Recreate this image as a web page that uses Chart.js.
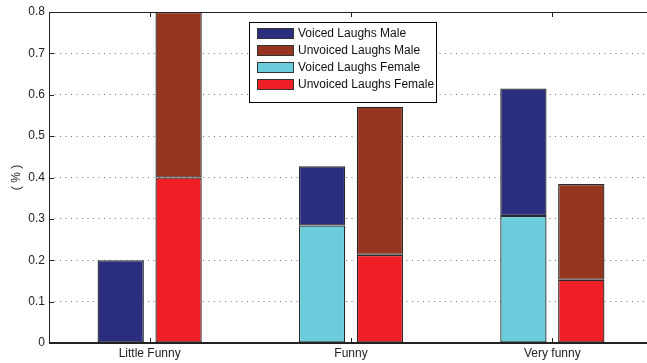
<!DOCTYPE html>
<html>
<head>
<meta charset="utf-8">
<script src="https://cdn.jsdelivr.net/npm/chart.js@4.4.1/dist/chart.umd.min.js"></script>
<style>
  html, body { margin: 0; padding: 0; background: #fff; overflow: hidden; }
  #wrap { width: 653px; height: 363px; }
</style>
</head>
<body>
<div id="wrap"><canvas id="laughChart"></canvas></div>
<script>
// categories and tick labels
var categories = ['Little Funny', 'Funny', 'Very funny'];
var yTicks = [0, 0.1, 0.2, 0.3, 0.4, 0.5, 0.6, 0.7, 0.8];

// stacked segments (female at the bottom, male on top)
var voicedFemale = [0, 0.284, 0.307];
var voicedMale = [0.2, 0.143, 0.308];
var unvoicedFemale = [0.4, 0.213, 0.153];
var unvoicedMale = [0.4, 0.358, 0.231];

var colors = {
    voicedMale: '#2B2D7F',
    unvoicedMale: '#96351F',
    voicedFemale: '#6BCDDB',
    unvoicedFemale: '#EE1F25'
};

var font = '"Liberation Sans", Arial, Helvetica, sans-serif';

function barSet(label, data, color, stack) {
    return {
        label: label,
        data: data,
        stack: stack,
        backgroundColor: color,
        borderColor: '#2a2a2a',
        borderWidth: 1.3,
        borderSkipped: false,
        categoryPercentage: 0.575,
        barPercentage: 0.8
    };
}

// legend order as in the picture
var legendItems = [
    ['Voiced Laughs Male', colors.voicedMale],
    ['Unvoiced Laughs Male', colors.unvoicedMale],
    ['Voiced Laughs Female', colors.voicedFemale],
    ['Unvoiced Laughs Female', colors.unvoicedFemale]
];

var framePlugin = {
    id: 'frame',
    afterDatasetsDraw: function (chart) {
        var ctx = chart.ctx;
        var a = chart.chartArea;
        var x = chart.scales.x, y = chart.scales.y;
        ctx.save();
        ctx.strokeStyle = '#222';
        ctx.lineWidth = 1;
        ctx.beginPath();
        ctx.moveTo(a.left, a.top + 0.5);
        ctx.lineTo(a.right, a.top + 0.5);
        ctx.moveTo(a.left + 0.5, a.top);
        ctx.lineTo(a.left + 0.5, a.bottom);
        ctx.moveTo(a.right - 0.5, a.top);
        ctx.lineTo(a.right - 0.5, a.bottom);
        ctx.stroke();
        ctx.lineWidth = 2;
        ctx.beginPath();
        ctx.moveTo(a.left, a.bottom);
        ctx.lineTo(a.right, a.bottom);
        ctx.stroke();
        // inward ticks
        ctx.lineWidth = 1;
        ctx.beginPath();
        yTicks.forEach(function (v) {
            var py = Math.round(y.getPixelForValue(v)) + 0.5;
            ctx.moveTo(a.left, py); ctx.lineTo(a.left + 5, py);
            ctx.moveTo(a.right - 5, py); ctx.lineTo(a.right, py);
        });
        categories.forEach(function (c, i) {
            var px = Math.round(x.getPixelForValue(i)) + 0.5;
            ctx.moveTo(px, a.bottom); ctx.lineTo(px, a.bottom - 5);
            ctx.moveTo(px, a.top); ctx.lineTo(px, a.top + 5);
        });
        ctx.stroke();
        ctx.restore();
    },
    afterDraw: function (chart) {
        var ctx = chart.ctx;
        ctx.save();
        var bx = 249.5, by = 22.5, bw = 187, bh = 80;
        ctx.fillStyle = '#fff';
        ctx.fillRect(bx, by, bw, bh);
        ctx.strokeStyle = '#000';
        ctx.lineWidth = 1;
        ctx.strokeRect(bx, by, bw, bh);
        ctx.font = '12px ' + font;
        ctx.textBaseline = 'middle';
        legendItems.forEach(function (item, i) {
            var cy = 33.5 + i * 17;
            ctx.fillStyle = item[1];
            ctx.fillRect(257, cy - 5.5, 37, 11);
            ctx.strokeStyle = '#333';
            ctx.strokeRect(257.5, cy - 5, 36, 10);
            ctx.fillStyle = '#111';
            ctx.fillText(item[0], 298, cy + 0.5);
        });
        ctx.restore();
    }
};

new Chart(document.getElementById('laughChart'), {
    type: 'bar',
    data: {
        labels: categories,
        datasets: [
            barSet('Voiced Laughs Female', voicedFemale, colors.voicedFemale, 'voiced'),
            barSet('Voiced Laughs Male', voicedMale, colors.voicedMale, 'voiced'),
            barSet('Unvoiced Laughs Female', unvoicedFemale, colors.unvoicedFemale, 'unvoiced'),
            barSet('Unvoiced Laughs Male', unvoicedMale, colors.unvoicedMale, 'unvoiced')
        ]
    },
    options: {
        responsive: true,
        maintainAspectRatio: false,
        animation: false,
        devicePixelRatio: 1,
        layout: { padding: { top: 12, right: 0, left: 0, bottom: 0 } },
        plugins: {
            legend: { display: false },
            tooltip: { enabled: false }
        },
        scales: {
            x: {
                stacked: true,
                grid: { display: false, drawTicks: false },
                border: { display: false },
                ticks: { color: '#222', font: { family: font, size: 12 }, padding: 3 },
                afterFit: function (s) { s.height = 20; }
            },
            y: {
                stacked: true,
                min: 0,
                max: 0.8,
                grid: { color: 'rgba(0,0,0,0.55)', drawTicks: false },
                border: { display: false, dash: [1, 4.5] },
                ticks: {
                    stepSize: 0.1,
                    color: '#222',
                    padding: 4,
                    font: { family: font, size: 12 },
                    callback: function (v) { return Math.round(v * 10) / 10; }
                },
                title: {
                    display: true,
                    text: '( % )',
                    color: '#222',
                    font: { family: font, size: 12 },
                    padding: { top: 9, bottom: 0 }
                },
                afterFit: function (s) { s.width = 49; }
            }
        }
    },
    plugins: [framePlugin]
});
</script>
</body>
</html>
